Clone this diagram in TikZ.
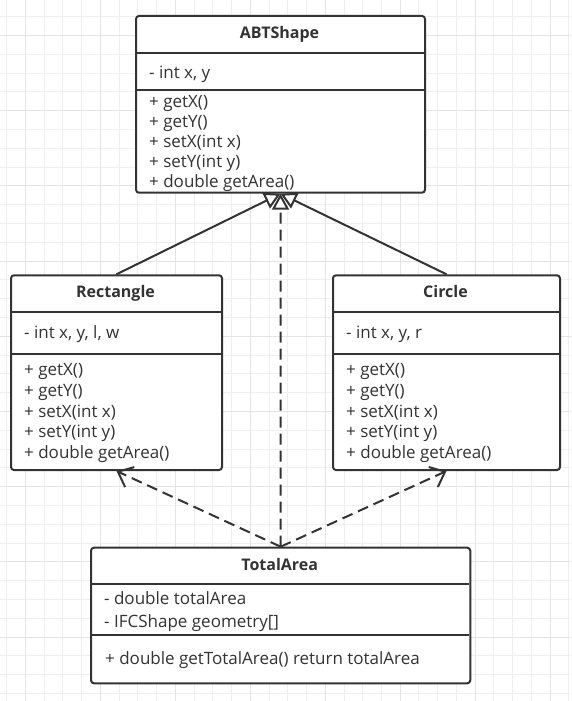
\documentclass[tikz,border=0pt]{standalone}
\usepackage{fontspec}
\setmainfont{Open Sans}
\usetikzlibrary{arrows.meta}
\definecolor{ink}{HTML}{333333}
\definecolor{gridminor}{HTML}{EFEFEF}
\definecolor{gridmajor}{HTML}{E4E4E4}
\tikzset{
  classbox/.style={draw=ink, line width=2pt, rounded corners=3pt, fill=white,
    inner sep=0pt, anchor=north west},
  divider/.style={draw=ink, line width=2pt},
  title/.style={font=\fontsize{16}{19}\selectfont\bfseries, text=ink, anchor=mid,
    inner sep=0pt, yshift=-1.5pt},
  member/.style={font=\fontsize{17}{20}\selectfont, text=ink, anchor=mid west,
    inner sep=0pt, yshift=-3pt},
  inherit/.style={draw=ink, line width=2pt,
    -{Triangle[open, length=16pt, width=17pt, fill=white]}},
  realize/.style={inherit, dash pattern=on 11pt off 6pt},
  depend/.style={draw=ink, line width=2pt, dash pattern=on 11pt off 6pt,
    -{Straight Barb[length=13pt, width=22pt]}},
}
\begin{document}
\begin{tikzpicture}[x=1pt, y=-1pt]
  \useasboundingbox (0,0) rectangle (571,701);
  \fill[white] (0,0) rectangle (571,701);
  % background grid
  \foreach \i in {0,...,30}
    \draw[gridminor, line width=1pt] ({6.7+18.74*\i},0) -- ({6.7+18.74*\i},701);
  \foreach \j in {0,...,36}
    \draw[gridminor, line width=1pt] (0,{16.7+18.8*\j}) -- (571,{16.7+18.8*\j});
  \foreach \i in {1,5,...,29}
    \draw[gridmajor, line width=1pt] ({6.7+18.74*\i},0) -- ({6.7+18.74*\i},701);
  \foreach \j in {1,5,...,33}
    \draw[gridmajor, line width=1pt] (0,{16.7+18.8*\j}) -- (571,{16.7+18.8*\j});

  % ABTShape
  \node[classbox, minimum width=289pt, minimum height=176.7pt] (abt) at (135,15) {};
  \draw[divider] (135,52.7) -- (424,52.7);
  \draw[divider] (135,90) -- (424,90);
  \node[title] (abtT) at (279.5,34.5) {ABTShape};
  \node[member] (abtA) at (149,72.5) {- int x, y};
  \node[member] (abtM1) at (149,101.7) {+ getX()};
  \node[member] (abtM2) at (149,121.7) {+ getY()};
  \node[member] (abtM3) at (149,141.7) {+ setX(int x)};
  \node[member] (abtM4) at (149,161.7) {+ setY(int y)};
  \node[member] (abtM5) at (149,181.7) {+ double getArea()};

  % Rectangle
  \node[classbox, minimum width=211pt, minimum height=194.7pt] (rect) at (10,274.3) {};
  \draw[divider] (10,312.3) -- (221,312.3);
  \draw[divider] (10,354.3) -- (221,354.3);
  \node[title] (rectT) at (115.5,293.3) {Rectangle};
  \node[member] (rectA) at (24,333.3) {- int x, y, l, w};
  \node[member] (rectM1) at (24,370.2) {+ getX()};
  \node[member] (rectM2) at (24,390.8) {+ getY()};
  \node[member] (rectM3) at (24,411.4) {+ setX(int x)};
  \node[member] (rectM4) at (24,432) {+ setY(int y)};
  \node[member] (rectM5) at (24,452.6) {+ double getArea()};

  % Circle
  \node[classbox, minimum width=227pt, minimum height=194.7pt] (circ) at (332,274.3) {};
  \draw[divider] (332,312.3) -- (559,312.3);
  \draw[divider] (332,354.3) -- (559,354.3);
  \node[title] (circT) at (445.5,293.3) {Circle};
  \node[member] (circA) at (346,333.3) {- int x, y, r};
  \node[member] (circM1) at (346,370.2) {+ getX()};
  \node[member] (circM2) at (346,390.8) {+ getY()};
  \node[member] (circM3) at (346,411.4) {+ setX(int x)};
  \node[member] (circM4) at (346,432) {+ setY(int y)};
  \node[member] (circM5) at (346,452.6) {+ double getArea()};

  % TotalArea
  \node[classbox, minimum width=379.3pt, minimum height=135.6pt] (total) at (90,546.7) {};
  \draw[divider] (90,584) -- (469.3,584);
  \draw[divider] (90,635) -- (469.3,635);
  \node[title] (totalT) at (279.7,566) {TotalArea};
  \node[member] (totalA1) at (104,599.3) {- double totalArea};
  \node[member] (totalA2) at (104,621.6) {- IFCShape geometry[]};
  \node[member] (totalM1) at (105,659.3) {+ double getTotalArea() return totalArea};

  % relations
  \draw[depend] (total.north) -- (rect.south);
  \draw[depend] (total.north) -- (circ.south);
  \draw[inherit] (rect.north) -- (abt.south);
  \draw[inherit] (circ.north) -- (abt.south);
  \draw[realize] (total.north) -- (abt.south);
\end{tikzpicture}
\end{document}
